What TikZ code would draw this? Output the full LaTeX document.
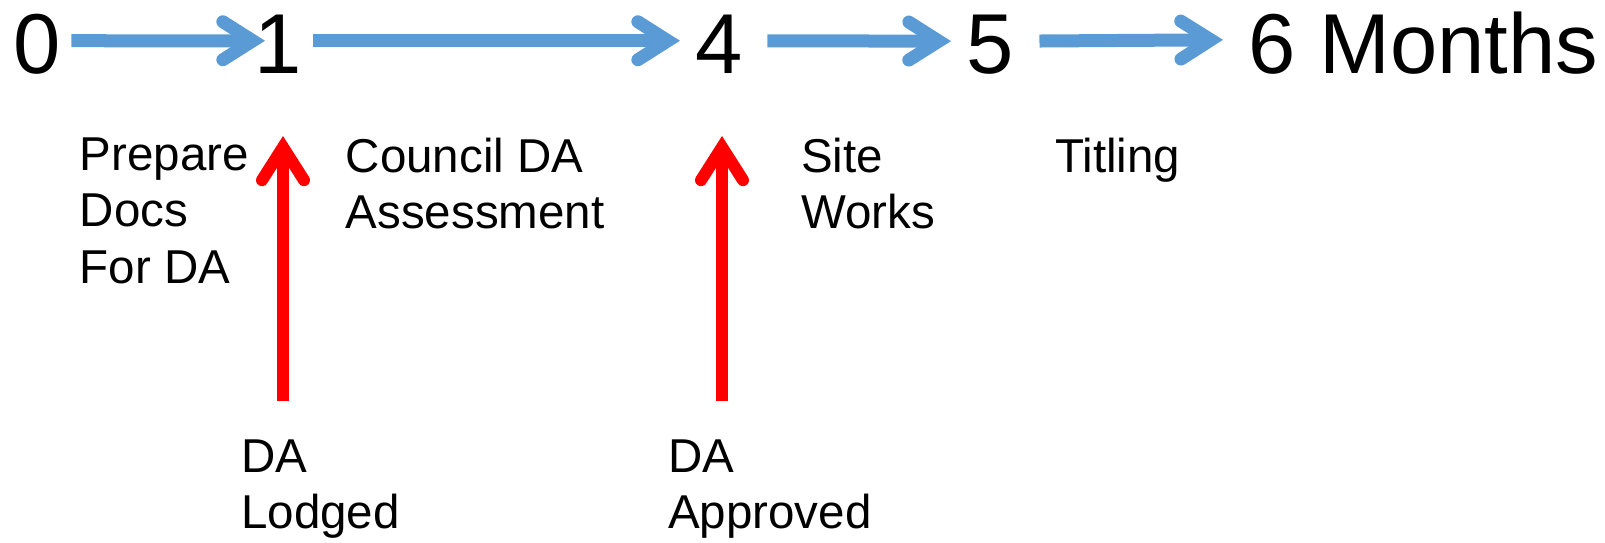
\documentclass[tikz,border=0pt]{standalone}
\usepackage{fontspec}
\setmainfont{Liberation Sans}
\usetikzlibrary{arrows.meta}
\definecolor{arrblue}{HTML}{5B9BD5}
\definecolor{arrred}{HTML}{FF0000}
\begin{document}
\begin{tikzpicture}[x=1pt,y=-1pt,
  num/.style={anchor=base west, inner sep=0pt, font=\fontsize{85}{100}\selectfont},
  lbl/.style={anchor=north west, inner sep=0pt, align=left, font=\fontsize{47.5}{56.5}\selectfont},
  bluearr/.style={draw=arrblue, line width=13pt, -{Straight Barb[length=30pt,width=38pt,line cap=round,line join=miter]}},
  redarr/.style={draw=arrred, line width=12pt, -{Straight Barb[length=33pt,width=42pt,line cap=round,line join=miter]}}
]
\useasboundingbox (0,0) rectangle (1605,542);

% month numbers
\node[num] (n0) at (13.5,73) {0};
\node[num] (n1) at (254,73) {1};
\node[num] (n4) at (695,73) {4};
\node[num] (n5) at (966.5,73) {5};
\node[num] (n6) at (1248.5,73) {6 Months};

% blue timeline arrows
\draw[bluearr, shorten <=10.3pt, shorten >=-11pt] ([yshift=3pt]n0.east) -- ([yshift=3pt]n1.west);
\draw[bluearr, shorten <=11.8pt, shorten >=15pt] ([yshift=3pt]n1.east) -- ([yshift=3pt]n4.west);
\draw[bluearr, shorten <=24.8pt, shorten >=15.5pt] ([yshift=3pt]n4.east) -- ([yshift=3pt]n5.west);
\draw[bluearr, shorten <=25.3pt, shorten >=25.5pt] ([yshift=3pt]n5.east) -- ([yshift=3pt]n6.west);

% phase labels
\node[lbl] (prep) at (79.7,137.5) {Prepare\\Docs\\For DA};
\node[lbl] (council) at (345.6,137.5) {Council DA\\Assessment};
\node[lbl] (site) at (801,137.5) {Site\\Works};
\node[lbl] (title) at (1055,138) {Titling};

% milestone labels
\node[lbl] (lodged) at (241,439.5) {DA\\Lodged};
\node[lbl] (approved) at (668,439.5) {DA\\Approved};

% red milestone arrows
\coordinate (r1b) at (283,401);
\coordinate (r1t) at (283,136);
\coordinate (r2b) at (722,401);
\coordinate (r2t) at (722,136);
\draw[redarr] (r1b) -- (r1t);
\draw[redarr] (r2b) -- (r2t);
\end{tikzpicture}
\end{document}
